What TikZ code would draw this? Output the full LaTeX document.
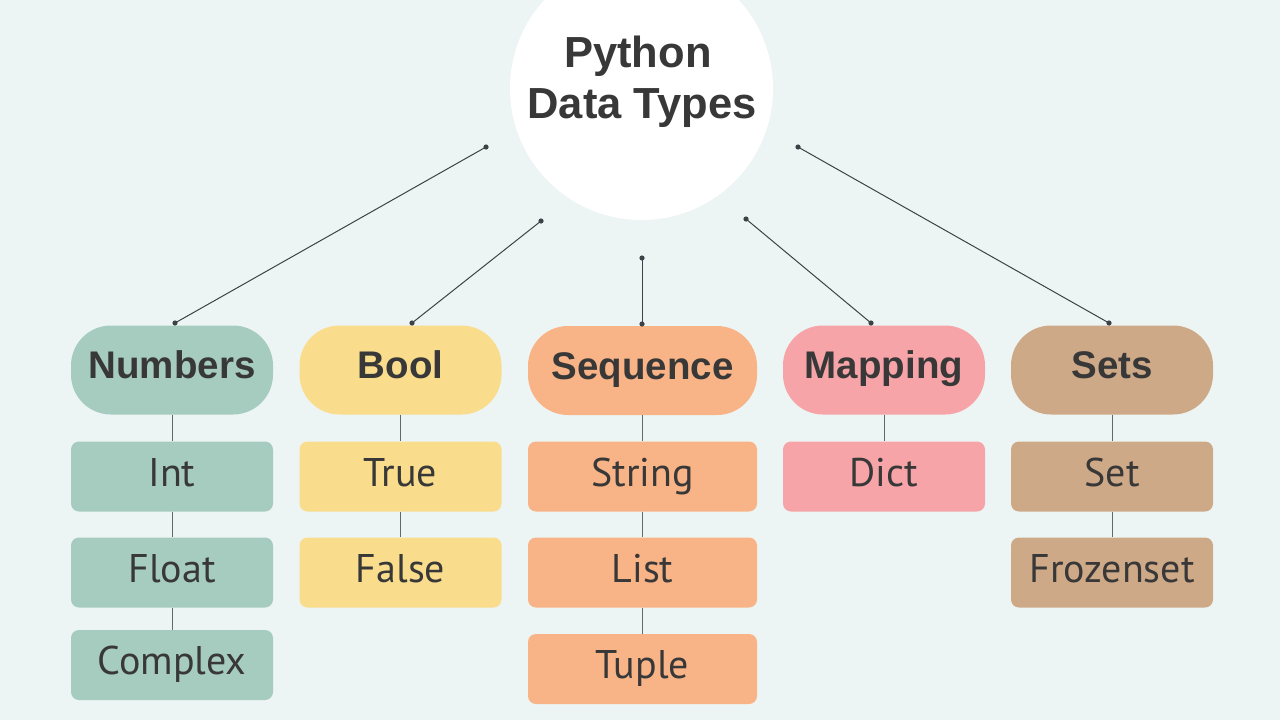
\documentclass[tikz,border=0pt]{standalone}
\usepackage{fontspec}
\setmainfont{Liberation Sans}
\newfontfamily\childfont{PT Sans}
\definecolor{bgc}{HTML}{EDF5F4}
\definecolor{sage}{HTML}{A6CBBF}
\definecolor{yel}{HTML}{F9DD8C}
\definecolor{peach}{HTML}{F8B486}
\definecolor{pink}{HTML}{F6A4A7}
\definecolor{tan}{HTML}{CEA988}
\definecolor{txt}{HTML}{383838}
\definecolor{linec}{HTML}{3C4246}
\begin{document}
\begin{tikzpicture}[x=1pt,y=-1pt,
  hdr/.style={rounded corners=40pt, minimum width=202pt, minimum height=89pt, inner sep=0pt,
    text=txt, font=\fontsize{38.5}{42}\selectfont\bfseries, text height=25pt, text depth=8pt},
  child/.style={rounded corners=8pt, minimum width=202pt, minimum height=70pt, inner sep=0pt,
    text=txt, font=\childfont\fontsize{40}{44}\selectfont, text height=25pt, text depth=6pt},
  titletext/.style={text=txt, font=\fontsize{43.5}{50}\selectfont\bfseries, inner sep=0pt},
  conn/.style={draw=linec, line width=1pt},
  vline/.style={draw=linec!80, line width=1pt},
  dotc/.style={fill=linec}
]
\useasboundingbox (0,0) rectangle (1280,720);
\clip (0,0) rectangle (1280,720);
\fill[bgc] (0,0) rectangle (1280,720);

% hub
\node[circle, fill=white, minimum size=263pt, inner sep=0pt] (hub) at (641.5,88.5) {};
\node[titletext, anchor=base] (t1) at (638,67) {Python};
\node[titletext, anchor=base] (t2) at (642,118) {Data Types};

% headers
\node[hdr, fill=sage]  (num) at (172,370) {Numbers};
\node[hdr, fill=yel]   (boo) at (400.5,370) {Bool};
\node[hdr, fill=peach, minimum width=229pt] (seq) at (642.5,370.5) {Sequence};
\node[hdr, fill=pink]  (map) at (884,370) {Mapping};
\node[hdr, fill=tan]   (sets) at (1112,370) {Sets};

% children
\node[child, fill=sage] (int) at (172,476.5) {Int};
\node[child, fill=sage] (flo) at (172,572.5) {Float};
\node[child, fill=sage] (cpx) at (172,665) {Complex};
\node[child, fill=yel] (tru) at (400.5,476.5) {True};
\node[child, fill=yel] (fal) at (400.5,572.5) {False};
\node[child, fill=peach, minimum width=229pt] (str) at (642.5,476.5) {String};
\node[child, fill=peach, minimum width=229pt] (lst) at (642.5,572.5) {List};
\node[child, fill=peach, minimum width=229pt] (tup) at (642.5,669) {Tuple};
\node[child, fill=pink] (dic) at (884,476.5) {Dict};
\node[child, fill=tan] (set) at (1112,476.5) {Set};
\node[child, fill=tan] (fro) at (1112,572.5) {Frozenset};

% vertical links
\draw[vline] (num.south) -- (int.north);
\draw[vline] (int.south) -- (flo.north);
\draw[vline] (flo.south) -- (cpx.north);
\draw[vline] (boo.south) -- (tru.north);
\draw[vline] (tru.south) -- (fal.north);
\draw[vline] (seq.south) -- (str.north);
\draw[vline] (str.south) -- (lst.north);
\draw[vline] (lst.south) -- (tup.north);
\draw[vline] (map.south) -- (dic.north);
\draw[vline] (sets.south) -- (set.north);
\draw[vline] (set.south) -- (fro.north);

% hub connector ends
\coordinate (s1) at (486,147);
\coordinate (s2) at (541,221);
\coordinate (s3) at (642,258);
\coordinate (s4) at (746,219);
\coordinate (s5) at (798,147);
\coordinate (e1) at (175,323);
\coordinate (e2) at (412,323);
\coordinate (e3) at (642,324);
\coordinate (e4) at (871,323);
\coordinate (e5) at (1109,323);

\foreach \i in {1,...,5}{
  \draw[conn] (s\i) -- (e\i);
  \fill[dotc] (s\i) circle (2.6pt);
  \fill[dotc] (e\i) circle (2.6pt);
}
\end{tikzpicture}
\end{document}
